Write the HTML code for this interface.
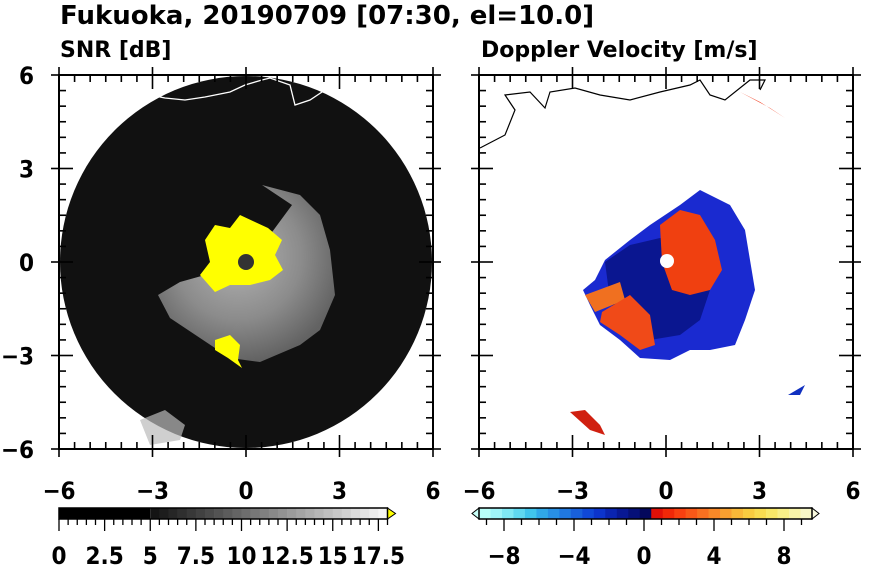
<!DOCTYPE html>
<html><head><meta charset="utf-8"><style>
html,body{margin:0;padding:0;background:#fff;}
svg{display:block;font-family:"DejaVu Sans","Liberation Sans",sans-serif;font-weight:bold;}
.c{font-family:"DejaVu Sans Condensed","DejaVu Sans","Liberation Sans",sans-serif;}
</style></head><body>
<svg id="s" width="870" height="570" viewBox="0 0 870 570" xmlns="http://www.w3.org/2000/svg">
<defs>
<radialGradient id="gr" cx="0.45" cy="0.4" r="0.6">
<stop offset="0" stop-color="#ddd"/><stop offset="0.6" stop-color="#aaa"/><stop offset="1" stop-color="#777"/>
</radialGradient>
<clipPath id="cl"><rect x="59" y="75" width="374" height="374"/></clipPath>
<clipPath id="cr"><rect x="479" y="75" width="374" height="374"/></clipPath>
</defs>
<text x="60" y="24" font-size="26">Fukuoka, 20190709 [07:30, el=10.0]</text>
<text x="60" y="57" font-size="22">SNR [dB]</text>
<text x="481" y="57" font-size="22">Doppler Velocity [m/s]</text>

<g clip-path="url(#cl)">
<circle cx="246" cy="262" r="186" fill="#111"/>
<path d="M158,295 L180,282 L205,275 L250,262 L292,205 L262,185 L300,195 L320,215 L330,250 L335,295 L320,330 L300,345 L260,362 L230,358 L200,338 L170,318 Z" fill="url(#gr)" opacity="0.8"/>
<path d="M205,240 L215,225 L230,228 L240,215 L255,222 L268,228 L282,240 L275,255 L283,270 L270,280 L250,285 L230,285 L215,292 L200,275 L210,262 Z" fill="#ff0"/>
<path d="M215,340 L230,335 L240,345 L238,360 L242,368 L228,358 L215,350 Z" fill="#ff0"/>
<path d="M150,95 L165,98 L185,100 L205,97 L230,92 L245,85 L262,80 L270,78 L290,85 L295,105 L310,100 L325,90" fill="none" stroke="#fff" stroke-width="1.3"/>
<path d="M140,420 L165,410 L185,425 L180,440 L150,445 Z" fill="#bbb" opacity="0.7"/>
<circle cx="246" cy="262" r="8" fill="#333"/>
</g>

<g clip-path="url(#cr)">
<path d="M583,290 L595,280 L605,260 L630,240 L650,225 L680,205 L700,190 L730,205 L745,230 L750,260 L755,290 L745,320 L735,345 L710,350 L690,350 L670,360 L640,358 L620,340 L600,325 L590,305 Z" fill="#1a2ad0"/>
<path d="M605,262 L630,245 L660,238 L700,250 L710,290 L700,320 L680,335 L650,340 L625,330 L610,300 Z" fill="#0a1690"/>
<path d="M660,225 L680,210 L700,215 L715,240 L722,270 L710,290 L690,295 L672,290 L662,262 Z" fill="#f04010"/>
<path d="M585,295 L620,282 L625,300 L595,312 Z" fill="#f07020"/>
<path d="M602,312 L630,295 L650,315 L655,345 L640,350 L620,335 L600,322 Z" fill="#f04a18"/>
<path d="M570,412 L585,410 L600,425 L605,435 L590,430 Z" fill="#d02010"/>
<path d="M788,395 L805,385 L800,395 Z" fill="#1030c0"/>
<path d="M740,92 L760,102 L785,118 L770,108 Z" fill="#f03010"/>
<path d="M480,148 L505,135 L515,110 L505,95 L530,92 L545,108 L550,92 L575,88 L600,95 L630,100 L660,92 L690,85 L700,80 L710,95 L725,100 L750,80 L765,80 L760,90" fill="none" stroke="#000" stroke-width="1.2"/>
<circle cx="667" cy="261" r="7" fill="#fff"/>
</g>

<g id="ax" stroke="#000" fill="none" stroke-width="1.6"></g>
<g id="lab" class="c" font-size="24" text-anchor="middle"></g>
<g id="cb" class="c"></g>
</svg>
<script>
var ax=document.getElementById('ax'),lab=document.getElementById('lab'),cb=document.getElementById('cb');
function L(x1,y1,x2,y2){return '<line x1="'+x1+'" y1="'+y1+'" x2="'+x2+'" y2="'+y2+'"/>';}
var h='',t='';
[59,479].forEach(function(x0,pi){
 var y0=75,S=374,k=S/12;
 h+='<rect x="'+x0+'" y="'+y0+'" width="'+S+'" height="'+S+'" stroke-width="2"/>';
 for(var v=-6;v<=6.01;v+=0.5){
  var p=x0+(v+6)*k, q=y0+(6-v)*k, maj=Math.abs(v%3)<0.01, l=maj?14:7;
  h+=L(p,y0,p,y0+l)+L(p,y0+S,p,y0+S-l)+L(x0,q,x0+l,q)+L(x0+S,q,x0+S-l,q);
  if(maj){h+=L(p,y0-8,p,y0)+L(p,y0+S,p,y0+S+8)+L(x0-8,q,x0,q)+L(x0+S,q,x0+S+8,q);
   var s=(v<0?'\u2212':'')+Math.abs(v);
   t+='<text x="'+p+'" y="'+(y0+S+50)+'">'+s+'</text>';
   if(pi==0)t+='<text x="34" y="'+(q+9)+'" text-anchor="end">'+s+'</text>';
  }
 }
});
ax.innerHTML=h;lab.innerHTML=t;
var c='';
var u=18.25;
c+='<rect x="59" y="508" width="'+(5*u)+'" height="11" fill="#000"/>';
for(var i=0;i<26;i++){var g=Math.round(20+i*(225/25));c+='<rect x="'+(59+5*u+i*u*0.5)+'" y="508" width="'+(u*0.5+0.3)+'" height="11" fill="rgb('+g+','+g+','+g+')"/>';}
var xe=59+18*u;
c+='<path d="M'+xe+',508 L'+(xe+8)+',513.5 L'+xe+',519 Z" fill="#ff0" stroke="#000"/>';
c+='<rect x="59" y="508" width="'+(18*u)+'" height="11" fill="none" stroke="#000" stroke-width="1.5"/>';
for(var v=0;v<=18;v+=0.5){var p=59+v*u,maj=Math.abs(v%2.5)<0.01;c+='<line x1="'+p+'" y1="519" x2="'+p+'" y2="'+(maj?531:525)+'" stroke="#000" stroke-width="1.3"/>';}
['0','2.5','5','7.5','10','12.5','15','17.5'].forEach(function(s,i){c+='<text x="'+(59+i*2.5*u)+'" y="564" font-size="24" text-anchor="middle">'+s+'</text>';});
var cols=['#b8fff8','#a0f4f8','#80e8f4','#60d8f0','#40c4ec','#30a8e8','#2890e4','#2078e0','#1860dc','#1048d8','#0c34cc','#0a24b0','#081894','#061078','#04085c','#e01008','#f02808','#f84010','#f85818','#f87020','#f88828','#f8a030','#f8b838','#f8cc40','#f8dc50','#f8e868','#f8f088','#f8f4a8','#f8f8c8'];
var a=479,b=812,n=cols.length,w=(b-a)/n;
for(var i=0;i<n;i++)c+='<rect x="'+(a+i*w)+'" y="508" width="'+(w+0.3)+'" height="11" fill="'+cols[i]+'"/>';
c+='<path d="M'+a+',508 L472,513.5 L'+a+',519 Z" fill="#c8fff8" stroke="#000"/>';
c+='<path d="M'+b+',508 L819,513.5 L'+b+',519 Z" fill="#fafae0" stroke="#000"/>';
c+='<rect x="'+a+'" y="508" width="'+(b-a)+'" height="11" fill="none" stroke="#000" stroke-width="1.5"/>';
var z=644,d=17.5;
for(var v=-9;v<=9;v++){var p=z+v*d,maj=v%4==0;c+='<line x1="'+p+'" y1="519" x2="'+p+'" y2="'+(maj?531:525)+'" stroke="#000" stroke-width="1.3"/>';}
[-8,-4,0,4,8].forEach(function(v){c+='<text x="'+(z+v*d)+'" y="564" font-size="24" text-anchor="middle">'+(v<0?'\u2212':'')+Math.abs(v)+'</text>';});
cb.innerHTML=c;
</script>
</body></html>
